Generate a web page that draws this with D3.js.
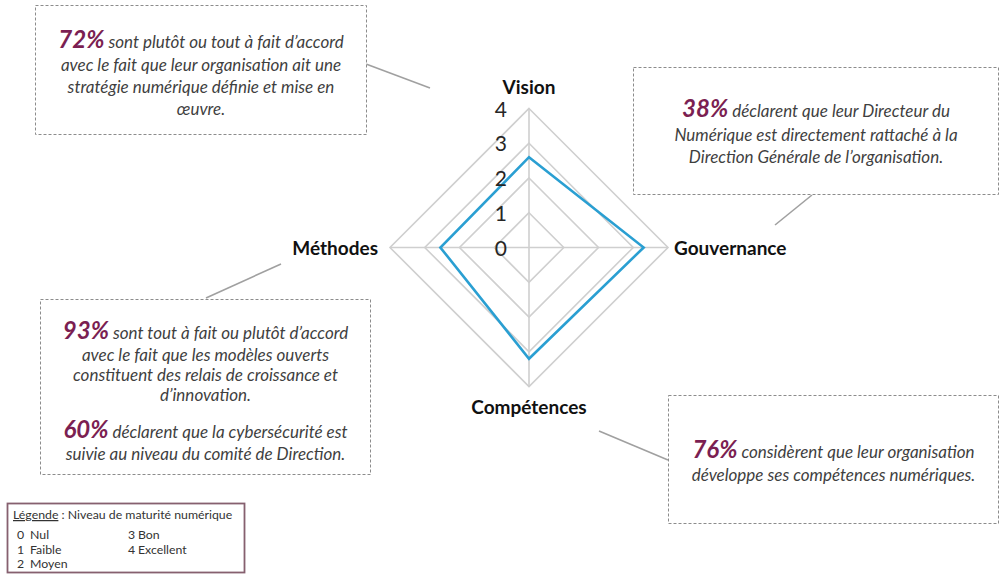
<!DOCTYPE html>
<html>
<head>
<meta charset="utf-8">
<script src="https://cdn.jsdelivr.net/npm/d3@7.9.0/dist/d3.min.js"></script>
<style>
  html, body { margin: 0; padding: 0; background: #fff; }
  svg { display: block; }
</style>
</head>
<body>
<script>
"use strict";

// Radar data
const AXES = ["Vision", "Gouvernance", "Compétences", "Méthodes"];
const SCORES = [2.6, 3.3, 3.2, 2.55];
const LEVELS = [0, 1, 2, 3, 4];

// Legend
const LEGEND_TITLE = "Légende";
const LEGEND_SUBTITLE = " : Niveau de maturité numérique";
const LEGEND_CODES = ["0", "1", "2", "3", "4"];
const LEGEND_NAMES = ["Nul", "Faible", "Moyen", "Bon", "Excellent"];

// Annotation texts: [percent, rest of line] for lead lines, plain strings otherwise
const NOTE_VISION = [
    ["72%", " sont plutôt ou tout à fait d’accord"],
    "avec le fait que leur organisation ait une",
    "stratégie numérique définie et mise en",
    "œuvre."
];
const NOTE_GOUV = [
    ["38%", " déclarent que leur Directeur du"],
    "Numérique est directement rattaché à la",
    "Direction Générale de l’organisation."
];
const NOTE_METH = [
    ["93%", " sont tout à fait ou plutôt d’accord"],
    "avec le fait que les modèles ouverts",
    "constituent des relais de croissance et",
    "d’innovation.",
    ["60%", " déclarent que la cybersécurité est"],
    "suivie au niveau du comité de Direction."
];
const NOTE_COMP = [
    ["76%", " considèrent que leur organisation"],
    "développe ses compétences numériques."
];

const W = 999, H = 575;
const FONT = "Lato, 'Open Sans', sans-serif";
const PURPLE = "#7b1f52";
const TEXT = "#3f3f3f";

const svg = d3.select("body").append("svg")
    .attr("width", W)
    .attr("height", H)
    .style("font-family", FONT);

// ---- radar ----
const cx = 529, cy = 247.5, R = 139;
const r = d3.scaleLinear().domain([0, 4]).range([0, R]);
const step = 2 * Math.PI / AXES.length;
const ang = (i) => -Math.PI / 2 + i * step;
const pt = (i, v) => [cx + r(v) * Math.cos(ang(i)), cy + r(v) * Math.sin(ang(i))];

const radar = svg.append("g");

// grid rings
radar.selectAll("none")
    .data(LEVELS.filter((d) => d > 0))
    .join("polygon")
    .attr("points", (lv) => AXES.map((a, i) => pt(i, lv).join(",")).join(" "))
    .attr("fill", "none")
    .attr("stroke", "#cfcfcf")
    .attr("stroke-width", 1.6);

// spokes
radar.selectAll("none")
    .data(AXES)
    .join("line")
    .attr("x1", cx).attr("y1", cy)
    .attr("x2", (d, i) => pt(i, 4)[0])
    .attr("y2", (d, i) => pt(i, 4)[1])
    .attr("stroke", "#cfcfcf")
    .attr("stroke-width", 1.6);

// series
const line = d3.line().curve(d3.curveLinearClosed);
radar.append("path")
    .attr("d", line(SCORES.map((v, i) => pt(i, v))))
    .attr("fill", "none")
    .attr("stroke", "#2a9fd2")
    .attr("stroke-width", 2.6)
    .attr("stroke-linejoin", "miter");

// scale labels
radar.selectAll("none")
    .data(LEVELS)
    .join("text")
    .attr("x", cx - 22)
    .attr("y", (d) => cy - r(d) + 8)
    .attr("text-anchor", "end")
    .attr("font-size", 21)
    .attr("fill", "#262626")
    .text((d) => d);

// axis labels
const labelPos = [
    { dx: 0, dy: -154, anchor: "middle" },
    { dx: 145, dy: 7, anchor: "start" },
    { dx: 0, dy: 166, anchor: "middle" },
    { dx: -151, dy: 7, anchor: "end" }
];
radar.selectAll("none")
    .data(AXES)
    .join("text")
    .attr("x", (d, i) => cx + labelPos[i].dx)
    .attr("y", (d, i) => cy + labelPos[i].dy)
    .attr("text-anchor", (d, i) => labelPos[i].anchor)
    .attr("font-size", 19)
    .attr("font-weight", 700)
    .attr("fill", "#111")
    .text((d) => d);

// ---- annotation boxes ----
function note(lines, box, baselines, link) {
    const g = svg.append("g");
    g.append("line")
        .attr("x1", link[0]).attr("y1", link[1])
        .attr("x2", link[2]).attr("y2", link[3])
        .attr("stroke", "#a0a0a0")
        .attr("stroke-width", 1.6);
    g.append("rect")
        .attr("x", box[0]).attr("y", box[1])
        .attr("width", box[2]).attr("height", box[3])
        .attr("fill", "#fff")
        .attr("stroke", "#8c8c8c")
        .attr("stroke-width", 1)
        .attr("stroke-dasharray", "3,2");
    const mid = box[0] + box[2] / 2;
    lines.forEach((ln, i) => {
        const t = g.append("text")
            .attr("x", mid)
            .attr("y", baselines[i])
            .attr("text-anchor", "middle")
            .attr("font-style", "italic")
            .attr("font-size", 17)
            .attr("fill", TEXT);
        if (Array.isArray(ln)) {
            t.append("tspan")
                .attr("font-size", 24)
                .attr("font-weight", 700)
                .attr("fill", PURPLE)
                .text(ln[0]);
            t.append("tspan").text(ln[1]);
        } else {
            t.text(ln);
        }
    });
}

note(NOTE_VISION, [35.5, 5.5, 331, 129], [48, 71, 93, 115], [366, 64, 430, 88]);
note(NOTE_GOUV, [633.5, 67.5, 365, 127], [117, 141, 163], [812, 195, 775, 225]);
note(NOTE_METH, [40.5, 299.5, 330, 175], [339, 361, 381, 401, 438, 460], [206, 298, 281, 264]);
note(NOTE_COMP, [668.5, 395.5, 330, 128], [458, 481], [599, 431, 668, 460]);

// ---- legend ----
const lg = svg.append("g");
lg.append("rect")
    .attr("x", 7.5).attr("y", 503.5)
    .attr("width", 237).attr("height", 69)
    .attr("fill", "#fff")
    .attr("stroke", "#86606f")
    .attr("stroke-width", 1.8);
const title = lg.append("text")
    .attr("x", 13).attr("y", 519)
    .attr("font-size", 12.3)
    .attr("fill", "#333");
title.append("tspan").attr("text-decoration", "underline").text(LEGEND_TITLE);
title.append("tspan").text(LEGEND_SUBTITLE);

const col = (i) => (i < 3 ? 0 : 1);
const row = (i) => (i < 3 ? i : i - 3);
lg.selectAll("none")
    .data(LEGEND_CODES)
    .join("text")
    .attr("x", (d, i) => 17 + col(i) * 111)
    .attr("y", (d, i) => 539 + row(i) * 14.5)
    .attr("font-size", 12.3)
    .attr("fill", "#333")
    .text((d) => d);
lg.selectAll("none")
    .data(LEGEND_NAMES)
    .join("text")
    .attr("x", (d, i) => 30 + col(i) * 108)
    .attr("y", (d, i) => 539 + row(i) * 14.5)
    .attr("font-size", 12.3)
    .attr("fill", "#333")
    .text((d) => d);
</script>
</body>
</html>
